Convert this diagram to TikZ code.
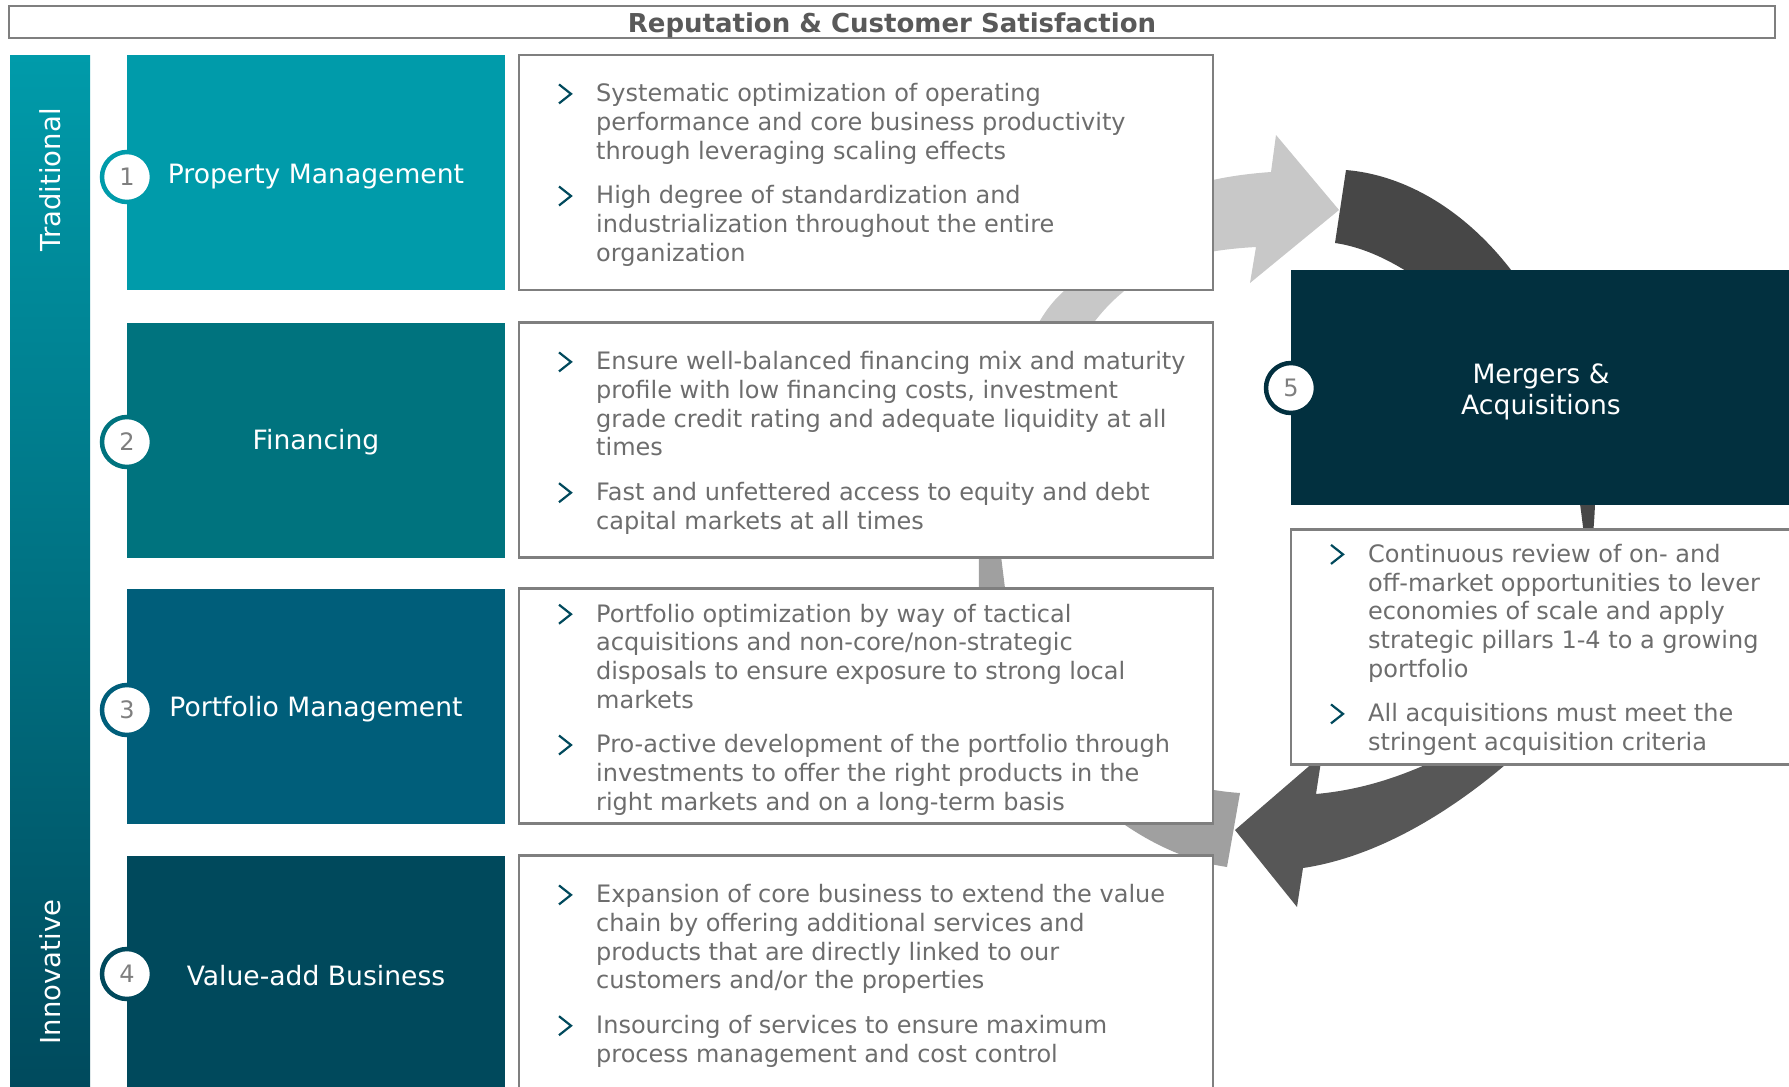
\documentclass[tikz,border=0pt]{standalone}
\usepackage{fontspec}
\setmainfont{DejaVu Sans}
\usetikzlibrary{calc}

\definecolor{tealA}{HTML}{009BAA}
\definecolor{tealB}{HTML}{00737E}
\definecolor{tealC}{HTML}{005E7A}
\definecolor{tealD}{HTML}{00495C}
\definecolor{navyE}{HTML}{02303F}
\definecolor{framegray}{HTML}{7F7F7F}
\definecolor{bodygray}{HTML}{6D6D6D}
\definecolor{titlegray}{HTML}{595959}
\definecolor{numgray}{HTML}{7F7F7F}
\definecolor{chevblue}{HTML}{00495C}
\definecolor{arcLight}{HTML}{C8C8C8}
\definecolor{arcMid}{HTML}{A0A0A0}
\definecolor{arcDarkA}{HTML}{474747}
\definecolor{arcDarkB}{HTML}{575757}

% small ">" in front of each paragraph
\newcommand{\chevmark}[1]{\draw[chev] ($(#1.north west)+(-37,1)$) -- ++(12,9.5) -- ++(-12,9.5);}

\begin{document}
\begin{tikzpicture}[
      x=1pt,y=-1pt,
      pillar/.style={rectangle,minimum width=378pt,minimum height=235pt,inner sep=0pt},
      plabel/.style={inner sep=0pt,text=white,align=center,font=\fontsize{26.6}{31}\selectfont},
      infobox/.style={rectangle,draw=framegray,line width=2.5pt,fill=white,
                      minimum width=694pt,minimum height=235pt},
      num/.style={circle,line width=4.5pt,fill=white,minimum size=50pt,inner sep=0pt,
                  text=numgray,font=\fontsize{24}{24}\selectfont},
      bul/.style={anchor=north west,inner sep=0pt,align=left,text=bodygray,
                  font=\fontsize{24}{28.7}\selectfont,execute at begin node=\strut},
      chev/.style={draw=chevblue,line width=2.2pt},
      side/.style={rotate=90,text=white,font=\fontsize{27.5}{27.5}\selectfont}
  ]
  \useasboundingbox (0,0) rectangle (1789,1087);
  \clip (0,0) rectangle (1789,1087);
  \fill[white] (0,0) rectangle (1789,1087);

  % ===================== cycle arrows (behind everything) =====================
  % medium grey: wide flat end at the bottom right
  \fill[arcMid] (1240,793) -- (1227,867)
      .. controls (1110,850) and (990,720) .. (979,588)
      .. controls (978,540) and (980,500) .. (988,460)
      .. controls (995,500) and (1000,550) .. (1005,588)
      .. controls (1020,700) and (1120,785) .. (1240,793) -- cycle;

  % light grey arrow up to the top
  \fill[arcLight] (1000,520)
      .. controls (1000,420) and (1020,330) .. (1063,292)
      .. controls (1120,215) and (1160,180) .. (1271,172)
      -- (1276,135) -- (1339,210) -- (1250,283) -- (1256,247)
      .. controls (1200,250) and (1150,262) .. (1123,292)
      .. controls (1070,335) and (1040,420) .. (1000,520) -- cycle;

  % dark grey band on the right, tapering down
  \fill[arcDarkA] (1346,170)
      .. controls (1465,180) and (1580,310) .. (1595,504)
      .. controls (1594,530) and (1592,545) .. (1588,570)
      .. controls (1585,545) and (1583,525) .. (1580,504)
      .. controls (1530,360) and (1420,255) .. (1335,243) -- cycle;

  % dark grey arrow back to the left
  \fill[arcDarkB] (1600,560)
      .. controls (1598,680) and (1560,730) .. (1505,765)
      .. controls (1440,820) and (1370,858) .. (1303,868)
      -- (1297,907) -- (1235,830) -- (1322,755) -- (1316,794)
      .. controls (1360,790) and (1395,778) .. (1425,765)
      .. controls (1510,720) and (1575,650) .. (1592,560) -- cycle;

  % ===================== title bar =====================
  \node[draw=framegray,line width=2pt,minimum width=1766pt,minimum height=32pt,inner sep=0pt] (title) at (892,22) {};
  \node[text=titlegray,font=\bfseries\fontsize{26}{26}\selectfont,inner sep=0pt] (titletext) at ([yshift=-3.5pt]title.center)
      {Reputation \& Customer Satisfaction};

  % ===================== left side bar =====================
  \node[rectangle,minimum width=80pt,minimum height=1045pt,inner sep=0pt,
        top color=tealA,bottom color=tealD] (bar) at (50,577.5) {};
  \node[side] (trad) at (50,180) {Traditional};
  \node[side] (innov) at (50,972) {Innovative};

  % ===================== four pillars =====================
  \node[pillar,fill=tealA] (pm) at (316,172.5) {};
  \node[pillar,fill=tealB] (fin) at (316,440) {};
  \node[pillar,fill=tealC] (pfm) at (316,706) {};
  \node[pillar,fill=tealD] (vab) at (316,973) {};

  \node[plabel] (pmlab) at ([yshift=-4.5pt]pm.center) {Property Management};
  \node[plabel] (finlab) at ([yshift=-2.5pt]fin.center) {Financing};
  \node[plabel] (pfmlab) at ([yshift=-3.5pt]pfm.center) {Portfolio Management};
  \node[plabel] (vablab) at ([yshift=-2.5pt]vab.center) {Value-add Business};

  \node[infobox] (pmtxt) at (866,172.5) {};
  \node[infobox] (fintxt) at (866,440) {};
  \node[infobox] (pfmtxt) at (866,706) {};
  \node[infobox] (vabtxt) at (866,973) {};

  % ===================== M&A =====================
  \node[pillar,fill=navyE,minimum width=500pt] (ma) at (1541,387) {};
  \node[plabel] (malab) at ([yshift=-4.5pt]ma.center) {Mergers \&\\Acquisitions};
  \node[infobox,minimum width=520pt] (matxt) at (1551,647) {};

  % numbered circles
  \node[num,draw=tealA] (c1) at (127,177) {1};
  \node[num,draw=tealB] (c2) at (127,442) {2};
  \node[num,draw=tealC] (c3) at (127,710) {3};
  \node[num,draw=tealD] (c4) at (127,974) {4};
  \node[num,draw=navyE] (c5) at (1291,388) {5};

  % ===================== bullet texts =====================
  \node[bul] (b1a) at (596,83.4) {Systematic optimization of operating\\performance and core business productivity\\through leveraging scaling effects};
  \node[bul] (b1b) at (596,185.5) {High degree of standardization and\\industrialization throughout the entire\\organization};

  \node[bul] (b2a) at (596,351.4) {Ensure well-balanced financing mix and maturity\\profile with low financing costs, investment\\grade credit rating and adequate liquidity at all\\times};
  \node[bul] (b2b) at (596,482.2) {Fast and unfettered access to equity and debt\\capital markets at all times};

  \node[bul] (b3a) at (596,603.7) {Portfolio optimization by way of tactical\\acquisitions and non-core/non-strategic\\disposals to ensure exposure to strong local\\markets};
  \node[bul] (b3b) at (596,734.5) {Pro-active development of the portfolio through\\investments to offer the right products in the\\right markets and on a long-term basis};

  \node[bul] (b4a) at (596,884.4) {Expansion of core business to extend the value\\chain by offering additional services and\\products that are directly linked to our\\customers and/or the properties};
  \node[bul] (b4b) at (596,1015.2) {Insourcing of services to ensure maximum\\process management and cost control};

  \node[bul] (b5a) at (1368,543.9) {Continuous review of on- and\\off-market opportunities to lever\\economies of scale and apply\\strategic pillars 1-4 to a growing\\portfolio};
  \node[bul] (b5b) at (1368,703.4) {All acquisitions must meet the\\stringent acquisition criteria};

  \chevmark{b1a} \chevmark{b1b}
  \chevmark{b2a} \chevmark{b2b}
  \chevmark{b3a} \chevmark{b3b}
  \chevmark{b4a} \chevmark{b4b}
  \chevmark{b5a} \chevmark{b5b}

\end{tikzpicture}
\end{document}
